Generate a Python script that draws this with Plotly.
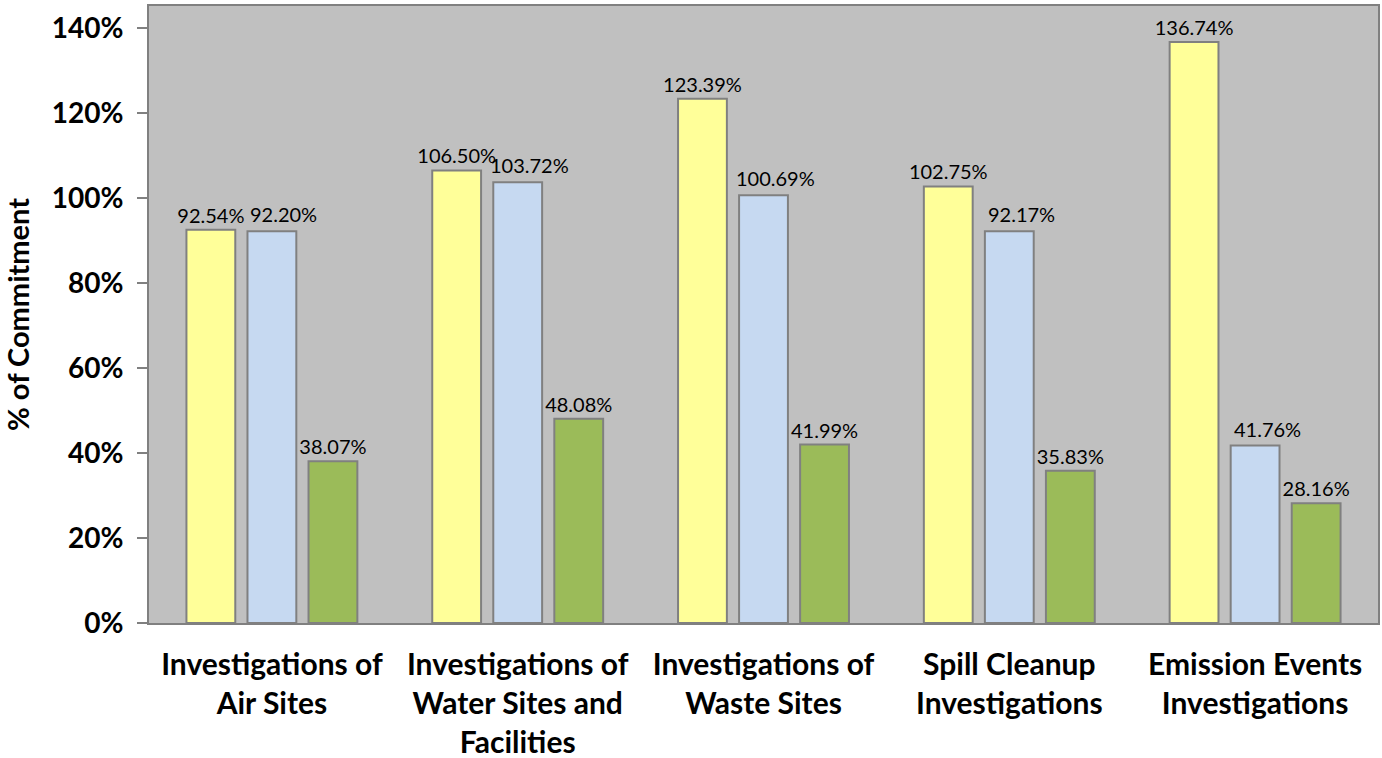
import plotly.graph_objects as go

categories = [
    "Investigations of<br>Air Sites",
    "Investigations of<br>Water Sites and<br>Facilities",
    "Investigations of<br>Waste Sites",
    "Spill Cleanup<br>Investigations",
    "Emission Events<br>Investigations",
]
series_yellow = [92.54, 106.50, 123.39, 102.75, 136.74]
series_blue = [92.20, 103.72, 100.69, 92.17, 41.76]
series_green = [38.07, 48.08, 41.99, 35.83, 28.16]
y_ticks = [0, 20, 40, 60, 80, 100, 120, 140]
y_tick_labels = ["0%", "20%", "40%", "60%", "80%", "100%", "120%", "140%"]

FONT = "Lato"
LABEL_FONT = dict(family=FONT, size=20, color="black")
fig = go.Figure()
for vals, col, show_text in [(series_yellow, "#FFFF99", True),
                             (series_blue, "#C6D9F1", False),
                             (series_green, "#9BBB59", True)]:
    fig.add_trace(go.Bar(
        x=categories, y=vals,
        marker=dict(color=col, line=dict(color="#808080", width=2)),
        texttemplate="%{y:.2f}%" if show_text else None,
        textposition="outside" if show_text else "none",
        textfont=LABEL_FONT,
        constraintext="none",
        cliponaxis=False,
    ))

# blue series labels sit slightly right of their bars (as in the source chart)
for c, v in zip(categories, series_blue):
    fig.add_annotation(
        x=c, y=v, text=f"{v:.2f}%", showarrow=False,
        yanchor="bottom", xanchor="center", xshift=12, yshift=3,
        font=LABEL_FONT,
    )

fig.update_layout(
    width=1382, height=758,
    margin=dict(l=149, r=4, t=6, b=135, autoexpand=False),
    paper_bgcolor="white", plot_bgcolor="#C0C0C0",
    barmode="group", bargap=0.255, bargroupgap=0.2,
    showlegend=False,
    font=dict(family=FONT, color="black"),
)
fig.update_xaxes(
    automargin=False,
    showline=True, linecolor="#808080", linewidth=2, mirror=True,
    ticks="", tickfont=dict(family=FONT, size=30, color="black", weight="bold"),
    ticklabelstandoff=14,
)
fig.update_yaxes(
    automargin=False,
    range=[0, 145.2], tickvals=y_ticks, ticktext=y_tick_labels,
    showgrid=False, zeroline=False,
    showline=True, linecolor="#808080", linewidth=2, mirror=True,
    ticks="outside", ticklen=10, tickcolor="#808080", tickwidth=2,
    tickfont=dict(family=FONT, size=28, color="black", weight="bold"),
    ticklabelstandoff=8,
    title=dict(text="% of Commitment", font=dict(family=FONT, size=29, color="black", weight="bold"), standoff=14),
)
fig.write_html(
    "out.html",
    config={"displayModeBar": False},
    post_script="document.body.style.margin='0';document.body.style.overflow='hidden';",
)
